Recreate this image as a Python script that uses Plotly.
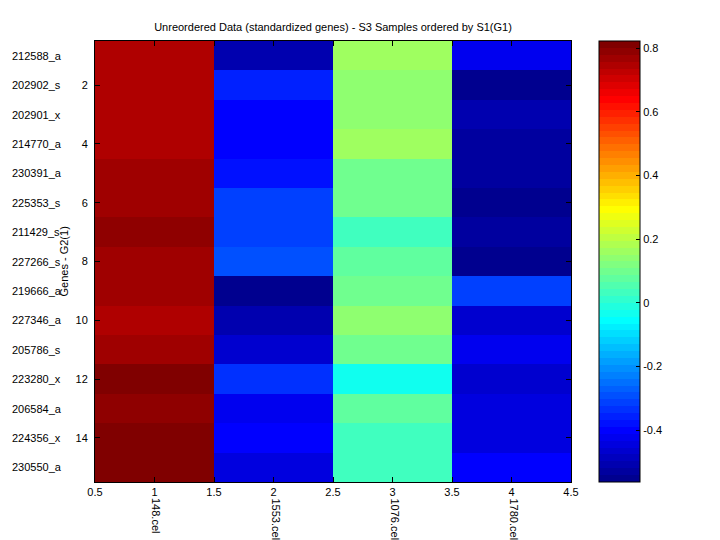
import plotly.graph_objects as go

genes = ["212588_a", "202902_s", "202901_x", "214770_a", "230391_a", "225353_s",
         "211429_s", "227266_s", "219666_a", "227346_a", "205786_s", "223280_x",
         "206584_a", "224356_x", "230550_a"]
samples = ["148.cel", "1553.cel", "1076.cel", "1780.cel"]
rows = list(range(1, 16))
cols = [1, 2, 3, 4]

s1 = [0.746, 0.746, 0.746, 0.746, 0.768, 0.768, 0.789, 0.768, 0.768, 0.746,
      0.768, 0.822, 0.789, 0.815, 0.810]
s2 = [-0.509, -0.357, -0.401, -0.401, -0.379, -0.314, -0.314, -0.293, -0.563, -0.509,
      -0.466, -0.336, -0.422, -0.401, -0.444]
s3 = [0.162, 0.140, 0.140, 0.162, 0.097, 0.097, 0.032, 0.075, 0.097, 0.140,
      0.097, -0.033, 0.075, 0.032, 0.032]
s4 = [-0.422, -0.555, -0.509, -0.530, -0.530, -0.558, -0.530, -0.552, -0.314, -0.466,
      -0.422, -0.466, -0.444, -0.444, -0.401]

zmin, zmax = -0.563, 0.822

z = [[s1[i], s2[i], s3[i], s4[i]] for i in range(15)]


def jet64():
    out = []
    for i in range(64):
        if i < 8:
            r, g, b = 0, 0, 0.5625 + i * 0.0625
        elif i < 24:
            r, g, b = 0, (i - 7) * 0.0625, 1
        elif i < 40:
            r, g, b = (i - 23) * 0.0625, 1, 1 - (i - 23) * 0.0625
        elif i < 56:
            r, g, b = 1, 1 - (i - 39) * 0.0625, 0
        else:
            r, g, b = 1 - (i - 55) * 0.0625, 0, 0
        out.append("rgb(%d,%d,%d)" % (round(r * 255), round(g * 255), round(b * 255)))
    return out


jc = jet64()
cs = []
for k, c in enumerate(jc):
    cs.append([k / 64, c])
    cs.append([(k + 1) / 64, c])

fig = go.Figure()
fig.add_trace(go.Heatmap(
    x=cols, y=rows, z=z, zmin=zmin, zmax=zmax, colorscale=cs,
    colorbar=dict(
        x=(599 - 95) / 476, xanchor="left", xpad=0, ypad=0, y=0.5, yanchor="middle",
        len=1, lenmode="fraction", thickness=41, thicknessmode="pixels",
        outlinewidth=1, outlinecolor="black",
        tickvals=[-0.4, -0.2, 0, 0.2, 0.4, 0.6, 0.8],
        ticktext=["-0.4", "-0.2", "0", "0.2", "0.4", "0.6", "0.8"],
        ticks="inside", ticklen=4, tickcolor="black",
        tickfont=dict(family="Liberation Sans, Arial", size=11, color="black"),
    ),
    hoverinfo="skip",
))

axis_font = dict(family="Liberation Sans, Arial", size=11, color="black")

fig.update_xaxes(
    range=[0.5, 4.5], tickvals=[0.5, 1, 1.5, 2, 2.5, 3, 3.5, 4, 4.5],
    ticktext=["0.5", "1", "1.5", "2", "2.5", "3", "3.5", "4", "4.5"],
    ticks="inside", ticklen=5, tickcolor="black", showline=True, linecolor="black",
    linewidth=1, mirror="ticks", showgrid=False, zeroline=False, tickfont=axis_font,
)
fig.update_yaxes(
    range=[15.5, 0.5], tickvals=[2, 4, 6, 8, 10, 12, 14],
    ticktext=["2", "4", "6", "8", "10", "12", "14"],
    ticks="inside", ticklen=5, tickcolor="black", showline=True, linecolor="black",
    linewidth=1, mirror="ticks", showgrid=False, zeroline=False, tickfont=axis_font,
    ticklabelstandoff=4,
)

for i, g in enumerate(genes):
    fig.add_annotation(x=(10 - 95) / 476, xref="paper", y=rows[i], yref="y",
                       text=g, showarrow=False, xanchor="left", yanchor="middle",
                       font=axis_font)

for j, s in enumerate(samples):
    fig.add_annotation(x=cols[j], xref="x", y=(482 - 496) / 441, yref="paper",
                       text=s, showarrow=False, textangle=90, xanchor="center",
                       yanchor="top", xshift=2, font=axis_font)

fig.add_annotation(x=(63 - 95) / 476, xref="paper", y=0.5, yref="paper",
                   text="Genes - G2(1)", showarrow=False, textangle=-90,
                   xanchor="center", yanchor="middle", font=axis_font)

fig.update_layout(
    width=720, height=540,
    margin=dict(l=95, r=149, t=41, b=58, pad=0),
    paper_bgcolor="white", plot_bgcolor="white",
    title=dict(text="Unreordered Data (standardized genes) - S3 Samples ordered by S1(G1)",
               x=333 / 720, xanchor="center", y=1 - 27 / 540, yanchor="middle",
               font=dict(family="Liberation Sans, Arial", size=11, color="black")),
    showlegend=False,
)

fig.write_html("out.html", config={"displayModeBar": False},
               post_script="document.body.style.margin='0px';document.body.style.overflow='hidden';")
